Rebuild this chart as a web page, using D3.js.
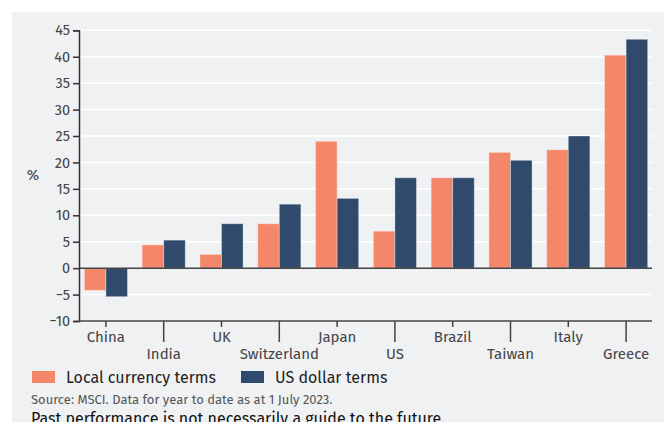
<!DOCTYPE html>
<html><head><meta charset="utf-8">
<script src="https://cdn.jsdelivr.net/npm/d3@7"></script>
<style>
body{margin:0;background:#fff;}
svg{display:block;font-family:"Fira Sans","Open Sans",sans-serif;}
</style></head><body>
<svg id="c" width="664" height="422"></svg>
<script>
const categories = ["China","India","UK","Switzerland","Japan","US","Brazil","Taiwan","Italy","Greece"];
const localValues = [-4.2, 4.4, 2.6, 8.4, 24.0, 7.0, 17.1, 21.9, 22.4, 40.3];
const usdValues   = [-5.4, 5.3, 8.4, 12.1, 13.2, 17.1, 17.1, 20.4, 25.0, 43.3];
const seriesNames = ["Local currency terms","US dollar terms"];
const seriesColors = ["#f4866a","#2f4a6d"];
const yTicks = [-10,-5,0,5,10,15,20,25,30,35,40,45];

const svg = d3.select("#c");
svg.append("rect").attr("x",12).attr("y",12).attr("width",652).attr("height",410).attr("fill","#f0f1f3");

const x0 = d3.scaleBand().domain(categories).range([77,655]).paddingInner(0).paddingOuter(0);
const x1 = d3.scaleBand().domain([0,1]).range([0,x0.bandwidth()]).paddingInner(0).paddingOuter(0.34);
const y = d3.scaleLinear().domain([-10,45]).range([321,30.3]);
const left = 79, right = 652;

// gridlines
svg.append("g").selectAll("line").data(yTicks.filter(d=>d!==-10 && d!==0)).join("line")
  .attr("x1",left).attr("x2",right).attr("y1",d=>y(d)).attr("y2",d=>y(d))
  .attr("stroke","#ffffff").attr("stroke-width",1.5);

// bars
const groups = svg.append("g").selectAll("g").data(categories).join("g")
  .attr("transform",d=>`translate(${x0(d)},0)`);
groups.selectAll("rect").data((d,i)=>[localValues[i],usdValues[i]].map((v,k)=>({v,k}))).join("rect")
  .attr("x",d=>x1(d.k)).attr("width",x1.bandwidth())
  .attr("y",d=>y(Math.max(0,d.v))).attr("height",d=>Math.abs(y(d.v)-y(0)))
  .attr("fill",d=>seriesColors[d.k])
  .attr("stroke","rgba(255,255,255,0.35)").attr("stroke-width",1);

// zero line
svg.append("line").attr("x1",left).attr("x2",right).attr("y1",y(0)).attr("y2",y(0))
  .attr("stroke","#444").attr("stroke-width",1.5);

// y axis
const yAxis = svg.append("g").attr("transform",`translate(${left},0)`)
  .call(d3.axisLeft(y).tickValues(yTicks).tickSize(6).tickPadding(3));
yAxis.select(".domain").attr("stroke","#333").attr("stroke-width",1.5);
yAxis.selectAll(".tick line").attr("stroke","#333").attr("stroke-width",1.5);
yAxis.selectAll("text").attr("font-size",14.5).attr("fill","#444").attr("font-family","'Fira Sans','Open Sans',sans-serif");

// x axis
const xAxisG = svg.append("g").attr("transform",`translate(0,${y(-10)})`);
xAxisG.append("line").attr("x1",left).attr("x2",right).attr("stroke","#444").attr("stroke-width",1.5);
const xt = xAxisG.selectAll("g").data(categories).join("g")
  .attr("transform",d=>`translate(${x0(d)+x0.bandwidth()/2},0)`);
xt.append("line").attr("y2",(d,i)=>i%2===0?6:21).attr("stroke","#444").attr("stroke-width",1.5);
xt.append("text").attr("y",(d,i)=>i%2===0?21:38).attr("text-anchor","middle")
  .attr("font-size",15).attr("fill","#444").text(d=>d);

// y label
svg.append("text").attr("x",33).attr("y",180).attr("text-anchor","middle").attr("font-size",15).attr("fill","#444").text("%");

// legend
const legX = [32,241];
const leg = svg.append("g").selectAll("g").data(seriesNames).join("g")
  .attr("transform",(d,i)=>`translate(${legX[i]},371)`);
leg.append("rect").attr("width",23).attr("height",12).attr("fill",(d,i)=>seriesColors[i]);
leg.append("text").attr("x",34).attr("y",12).attr("font-size",16).attr("fill","#222").text(d=>d);

svg.append("text").attr("x",31).attr("y",404).attr("font-size",13).attr("fill","#555")
  .text("Source: MSCI. Data for year to date as at 1 July 2023.");
svg.append("text").attr("x",31).attr("y",424).attr("font-size",16).attr("fill","#111")
  .text("Past performance is not necessarily a guide to the future.");
</script>
</body></html>
